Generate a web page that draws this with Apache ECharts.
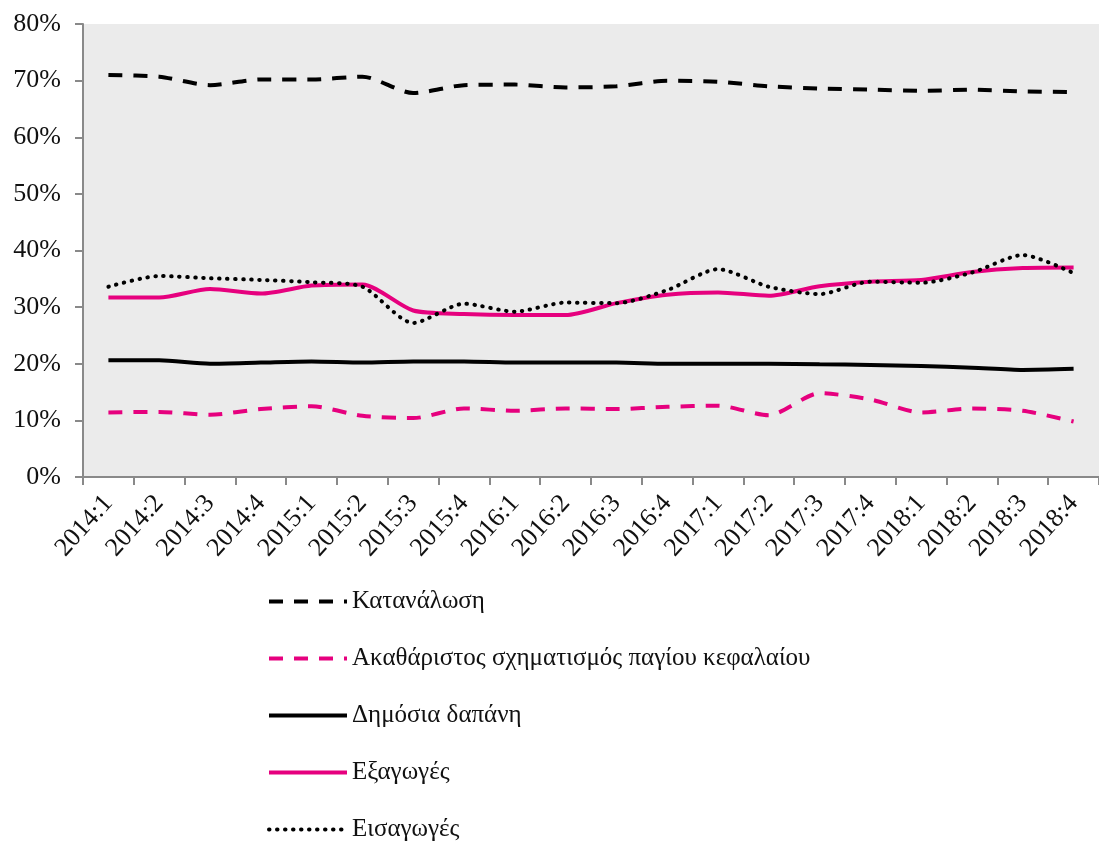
<!DOCTYPE html>
<html>
<head>
<meta charset="utf-8">
<script src="https://cdn.jsdelivr.net/npm/echarts@6/dist/echarts.min.js"></script>
<style>
  html, body { margin: 0; padding: 0; background: #fff; }
  #chart { width: 1099px; height: 841px; }
</style>
</head>
<body>
<div id="chart"></div>
<script>
const quarters = ['2014:1', '2014:2', '2014:3', '2014:4', '2015:1', '2015:2', '2015:3', '2015:4',
  '2016:1', '2016:2', '2016:3', '2016:4', '2017:1', '2017:2', '2017:3', '2017:4',
  '2018:1', '2018:2', '2018:3', '2018:4']

const consumption = [71.0, 70.7, 69.2, 70.2, 70.2, 70.7, 67.8, 69.2, 69.3, 68.8,
  69.0, 70.0, 69.8, 69.0, 68.6, 68.4, 68.2, 68.4, 68.1, 68.0]
const investment = [11.4, 11.5, 11.0, 12.0, 12.5, 10.8, 10.4, 12.1, 11.7, 12.1,
  12.0, 12.4, 12.6, 10.9, 14.8, 13.7, 11.4, 12.1, 11.7, 9.8]
const publicSpending = [20.6, 20.6, 20.0, 20.2, 20.4, 20.2, 20.4, 20.4, 20.2, 20.2,
  20.2, 20.0, 20.0, 20.0, 19.9, 19.8, 19.6, 19.3, 18.9, 19.1]
const exportsShare = [31.7, 31.7, 33.2, 32.4, 33.8, 34.0, 29.4, 28.8, 28.6, 28.6,
  30.7, 32.2, 32.6, 32.0, 33.7, 34.5, 34.8, 36.2, 36.9, 37.0]
const importsShare = [33.6, 35.5, 35.1, 34.8, 34.4, 33.6, 27.2, 30.6, 29.2, 30.8,
  30.7, 33.0, 36.7, 33.6, 32.3, 34.5, 34.3, 36.1, 39.2, 36.0]

const seriesNames = ['Κατανάλωση', 'Ακαθάριστος σχηματισμός παγίου κεφαλαίου',
  'Δημόσια δαπάνη', 'Εξαγωγές', 'Εισαγωγές']

const pink = '#E6007E'
const font = 'Liberation Serif'

// dots: short dash + round cap
const makeLine = (name, data, color, type, width, cap) => ({
  name,
  type: 'line',
  data,
  symbol: 'none',
  smooth: 0.25,
  lineStyle: { color, width, type, cap: cap || 'butt' },
  itemStyle: { color }
})

const chart = echarts.init(document.getElementById('chart'))
chart.setOption({
  animation: false,
  grid: {
    left: 83, top: 24, right: -9, bottom: 364,
    show: true, backgroundColor: '#EBEBEB', borderWidth: 0
  },
  legend: {
    orient: 'vertical',
    left: 267,
    top: 589,
    height: 280,
    padding: 0,
    itemWidth: 78,
    itemHeight: 14,
    itemGap: 32,
    itemStyle: { opacity: 0 },
    lineStyle: { width: 4 },
    data: seriesNames,
    textStyle: { fontFamily: font, fontSize: 25, color: '#111' }
  },
  xAxis: {
    type: 'category',
    data: quarters,
    boundaryGap: true,
    axisLine: { lineStyle: { color: '#898989', width: 2 } },
    axisTick: { show: true, length: 8, lineStyle: { color: '#898989', width: 2 } },
    axisLabel: { rotate: 48, margin: 22, interval: 0, fontFamily: font, fontSize: 26, color: '#111' },
    splitLine: { show: false }
  },
  yAxis: {
    type: 'value',
    min: 0, max: 80, interval: 10,
    axisLine: { show: true, lineStyle: { color: '#898989', width: 2 } },
    axisTick: { show: true, length: 8, lineStyle: { color: '#898989', width: 2 } },
    axisLabel: { formatter: '{value}%', margin: 22, fontFamily: font, fontSize: 26, color: '#111' },
    splitLine: { show: false }
  },
  series: [
    makeLine(seriesNames[0], consumption, '#000', [14, 11], 4),
    makeLine(seriesNames[1], investment, pink, [14, 11], 4),
    makeLine(seriesNames[2], publicSpending, '#000', 'solid', 4),
    makeLine(seriesNames[3], exportsShare, pink, 'solid', 4),
    makeLine(seriesNames[4], importsShare, '#000', [0.5, 7.5], 4, 'round')
  ]
})
</script>
</body>
</html>
